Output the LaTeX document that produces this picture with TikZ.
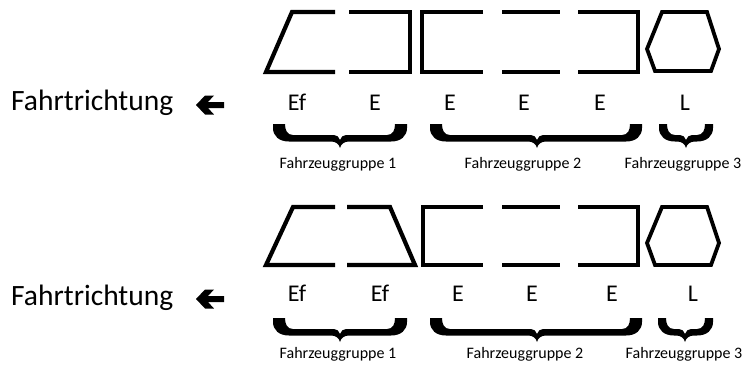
\documentclass[tikz,border=0pt]{standalone}
\usepackage{fontspec}
\setmainfont{Carlito}

% curly group brace opening downwards: left x, tip x, right x, top y, end width
\newcommand\grpbrace[5]{%
  \fill (#1,#4) -- (#1,#4+4)
    .. controls (#1,#4+12) and (#1+6,#4+17.5) .. (#1+16,#4+17.5)
    -- (#2-9,#4+17.5)
    .. controls (#2-4,#4+17.5) and (#2-1,#4+20) .. (#2,#4+24)
    .. controls (#2+1,#4+20) and (#2+4,#4+17.5) .. (#2+9,#4+17.5)
    -- (#3-16,#4+17.5)
    .. controls (#3-6,#4+17.5) and (#3,#4+12) .. (#3,#4+4)
    -- (#3,#4) -- (#3-#5,#4)
    .. controls (#3-#5,#4+6) and (#3-#5-2,#4+11) .. (#3-#5-8,#4+11)
    -- (#2+6,#4+11)
    .. controls (#2+3,#4+11) and (#2+1,#4+13) .. (#2,#4+16)
    .. controls (#2-1,#4+13) and (#2-3,#4+11) .. (#2-6,#4+11)
    -- (#1+#5+8,#4+11)
    .. controls (#1+#5+2,#4+11) and (#1+#5,#4+6) .. (#1+#5,#4)
    -- cycle;}

% heavy left-pointing arrow, tip at (#1,#2)
\newcommand\dirarrow[2]{%
  \fill (#1,#2) -- ++(9,-9.5) -- ++(9,0) -- ++(-6,6.5) -- ++(16,0) -- ++(0,6)
    -- ++(-16,0) -- ++(6,6.5) -- ++(-9,0) -- cycle;}

\begin{document}
\begin{tikzpicture}[x=1pt,y=-1pt,
  outline/.style={line width=4.2pt, line cap=butt, line join=miter},
  hexa/.style={line width=3.8pt, line join=miter},
  dirtext/.style={font=\fontsize{29.5}{32}\selectfont, inner sep=0pt, anchor=base west},
  cartext/.style={font=\fontsize{24}{28}\selectfont, inner sep=0pt, anchor=base},
  grouptext/.style={font=\fontsize{16}{18}\selectfont, inner sep=0pt, anchor=base}]
\useasboundingbox (0,0) rectangle (744,365);

% ---------- first train ----------
\draw[outline] (335,12) -- (292,12) -- (266,72) -- (335,72);
\draw[outline] (349,12) -- (410,12) -- (410,72) -- (349,72);
\draw[outline] (483,12) -- (422,12) -- (422,72) -- (483,72);
\draw[outline] (502,12) -- (560,12) (502,72) -- (560,72);
\draw[outline] (578,12) -- (638,12) -- (638,72) -- (578,72);
\draw[hexa] (662,12) -- (707,12) -- (719,49) -- (711,71) -- (655,71) -- (647,49) -- cycle;

\node[dirtext] (dir1) at (11,110.7) {Fahrtrichtung};
\dirarrow{196}{105}

\node[cartext] (a1) at (297,110) {Ef};
\node[cartext] (a2) at (375,110) {E};
\node[cartext] (a3) at (450,110) {E};
\node[cartext] (a4) at (524,110) {E};
\node[cartext] (a5) at (600,110) {E};
\node[cartext] (a6) at (685,110) {L};

\grpbrace{273}{340}{407}{124}{12}
\grpbrace{430}{537}{642}{124}{12}
\grpbrace{659}{686}{713}{124}{8}

\node[grouptext] (g1) at (338,168) {Fahrzeuggruppe 1};
\node[grouptext] (g2) at (523,168) {Fahrzeuggruppe 2};
\node[grouptext] (g3) at (683,168) {Fahrzeuggruppe 3};

% ---------- second train ----------
\draw[outline] (335,207) -- (293,207) -- (266,265) -- (335,265);
\draw[outline] (347,207) -- (390,207) -- (415,265) -- (347,265);
\draw[outline] (483,207) -- (423,207) -- (423,265) -- (483,265);
\draw[outline] (502,207) -- (560,207) (502,265) -- (560,265);
\draw[outline] (578,207) -- (638,207) -- (638,265) -- (578,265);
\draw[hexa] (662,207) -- (707,207) -- (719,243) -- (711,265) -- (655,265) -- (647,243) -- cycle;

\node[dirtext] (dir2) at (11,305) {Fahrtrichtung};
\dirarrow{196}{299}

\node[cartext] (b1) at (297,301) {Ef};
\node[cartext] (b2) at (380,301) {Ef};
\node[cartext] (b3) at (458,301) {E};
\node[cartext] (b4) at (532,301) {E};
\node[cartext] (b5) at (612,301) {E};
\node[cartext] (b6) at (693,301) {L};

\grpbrace{273}{340}{407}{318}{12}
\grpbrace{430}{537}{642}{318}{12}
\grpbrace{658}{685}{713}{318}{8}

\node[grouptext] (h1) at (338,358) {Fahrzeuggruppe 1};
\node[grouptext] (h2) at (525,358) {Fahrzeuggruppe 2};
\node[grouptext] (h3) at (684,358) {Fahrzeuggruppe 3};
\end{tikzpicture}
\end{document}
